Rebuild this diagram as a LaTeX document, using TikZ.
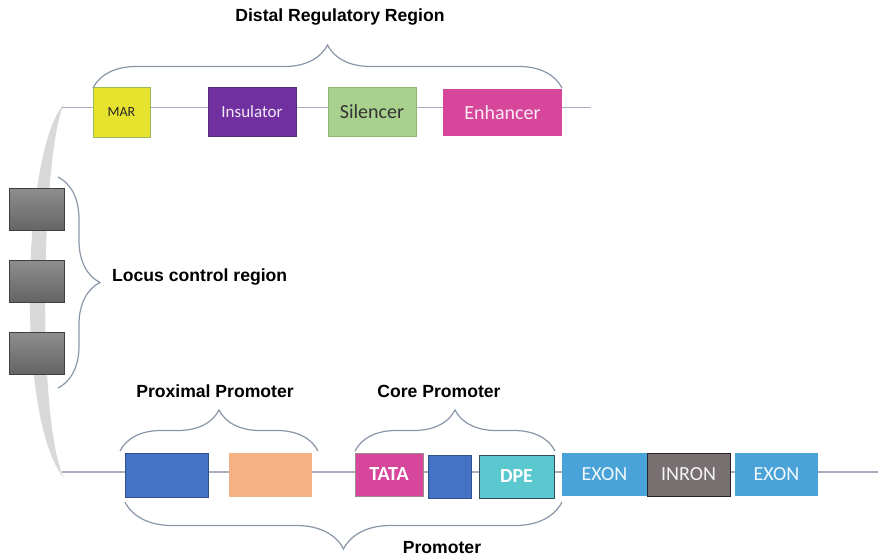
\documentclass[tikz,border=0pt]{standalone}
\usepackage{fontspec}
\setmainfont{Liberation Sans}
\newfontfamily\carl{Carlito}
\usetikzlibrary{decorations.pathreplacing}
\definecolor{linec}{HTML}{A6AEBE}
\definecolor{bracec}{HTML}{8896A8}
\definecolor{bandc}{HTML}{D9D9D9}
\definecolor{marc}{HTML}{E6E22E}
\definecolor{marb}{HTML}{9BBB59}
\definecolor{insc}{HTML}{7030A0}
\definecolor{insb}{HTML}{5A2D82}
\definecolor{silc}{HTML}{A9D18E}
\definecolor{silb}{HTML}{8DB573}
\definecolor{enhc}{HTML}{D6479C}
\definecolor{bluec}{HTML}{4472C4}
\definecolor{blueb}{HTML}{2F528F}
\definecolor{peachc}{HTML}{F4B183}
\definecolor{tatab}{HTML}{9E8C8C}
\definecolor{dpec}{HTML}{5BC8CF}
\definecolor{dpeb}{HTML}{2F4F5F}
\definecolor{exonc}{HTML}{49A3D8}
\definecolor{inronc}{HTML}{787070}
\definecolor{grayt}{HTML}{8E8E8E}
\definecolor{grayb}{HTML}{646464}
\tikzset{
  box/.style={inner sep=0pt, outer sep=0pt, line width=1pt, font=\carl},
  lbl/.style={font=\bfseries\fontsize{17.6}{20}\selectfont, inner sep=0pt},
  dna/.style={draw=linec, line width=1.5pt},
  brc/.style={draw=bracec, line width=1.2pt, decorate},
  lcr/.style={box, draw=black!75, top color=grayt, bottom color=grayb, minimum width=55pt, minimum height=42pt},
}
\begin{document}
\begin{tikzpicture}[x=1pt,y=-1pt]
\useasboundingbox (0,0) rectangle (880,559);
% grey band
\fill[bandc] (64,104) .. controls (22,150) and (15,420) .. (64,478)
  .. controls (36,420) and (42,150) .. (64,104) -- cycle;
% DNA lines
\coordinate (tl) at (62,107.5);
\coordinate (tr) at (591,107.5);
\coordinate (bl) at (62,472);
\coordinate (br) at (878,472);
\draw[dna] (tl) -- (tr);
\draw[dna] (bl) -- (br);
% top boxes
\node[box, fill=marc, draw=marb, minimum width=57pt, minimum height=49pt, font=\carl\fontsize{14}{16}\selectfont, text=black!85] (mar) at (121.5,112.5) {MAR};
\node[box, fill=insc, draw=insb, minimum width=88pt, minimum height=48pt, font=\carl\fontsize{17}{19}\selectfont, text=white!90!insc] (ins) at (252,112) {Insulator};
\node[box, fill=silc, draw=silb, minimum width=88pt, minimum height=48pt, font=\carl\fontsize{20}{22}\selectfont, text=black!80] (sil) at (372,112) {Silencer};
\node[box, fill=enhc, minimum width=119pt, minimum height=47pt, font=\carl\fontsize{20}{22}\selectfont, text=white!88!enhc] (enh) at (502.5,112.5) {Enhancer};
% LCR boxes
\node[lcr] (g1) at (36.5,209.5) {};
\node[lcr] (g2) at (36.5,281) {};
\node[lcr] (g3) at (36.5,353) {};
% bottom boxes
\node[box, fill=bluec, draw=blueb, minimum width=83pt, minimum height=44pt] (p1) at (166.5,475) {};
\node[box, fill=peachc, minimum width=83pt, minimum height=44pt] (p2) at (270.5,475) {};
\node[box, fill=enhc, draw=tatab, minimum width=68pt, minimum height=43pt, font=\carl\bfseries\fontsize{20}{22}\selectfont, text=white] (tata) at (389,474.5) {TATA};
\node[box, fill=bluec, draw=blueb, minimum width=43pt, minimum height=43pt] (c2) at (449.5,476.5) {};
\node[box, fill=dpec, draw=dpeb, minimum width=75pt, minimum height=43pt, font=\carl\bfseries\fontsize{20}{22}\selectfont, text=white] (dpe) at (516.5,476.5) {DPE};
\node[box, fill=exonc, minimum width=85pt, minimum height=43pt, font=\carl\fontsize{20}{22}\selectfont, text=white!92!exonc] (ex1) at (604.5,474.5) {EXON};
\node[box, fill=inronc, draw=black!85, minimum width=83pt, minimum height=43pt, font=\carl\fontsize{20}{22}\selectfont, text=white!92!inronc] (inr) at (688.5,474.5) {INRON};
\node[box, fill=exonc, minimum width=83pt, minimum height=43pt, font=\carl\fontsize{20}{22}\selectfont, text=white!92!exonc] (ex2) at (776.5,474.5) {EXON};
% braces
\coordinate (db1) at (93,88);
\coordinate (db2) at (562,88);
\draw[brc, decoration={brace, amplitude=43pt}] (db1) -- (db2);
\coordinate (lb1) at (58,177);
\coordinate (lb2) at (58,388);
\draw[brc, decoration={brace, amplitude=42pt}] (lb1) -- (lb2);
\coordinate (pp1) at (120,451);
\coordinate (pp2) at (318,451);
\draw[brc, decoration={brace, amplitude=41pt}] (pp1) -- (pp2);
\coordinate (cp1) at (355,451);
\coordinate (cp2) at (555,451);
\draw[brc, decoration={brace, amplitude=41pt}] (cp1) -- (cp2);
\coordinate (pr1) at (125,502);
\coordinate (pr2) at (562,502);
\draw[brc, decoration={brace, amplitude=47pt, mirror}] (pr1) -- (pr2);
% labels
\node[lbl] (distal) at (340,17) {Distal Regulatory Region};
\node[lbl, anchor=west] (locus) at (112,277) {Locus control region};
\node[lbl] (prox) at (215,391) {Proximal Promoter};
\node[lbl] (core) at (439,391) {Core Promoter};
\node[lbl] (prom) at (442,548) {Promoter};
\end{tikzpicture}
\end{document}
